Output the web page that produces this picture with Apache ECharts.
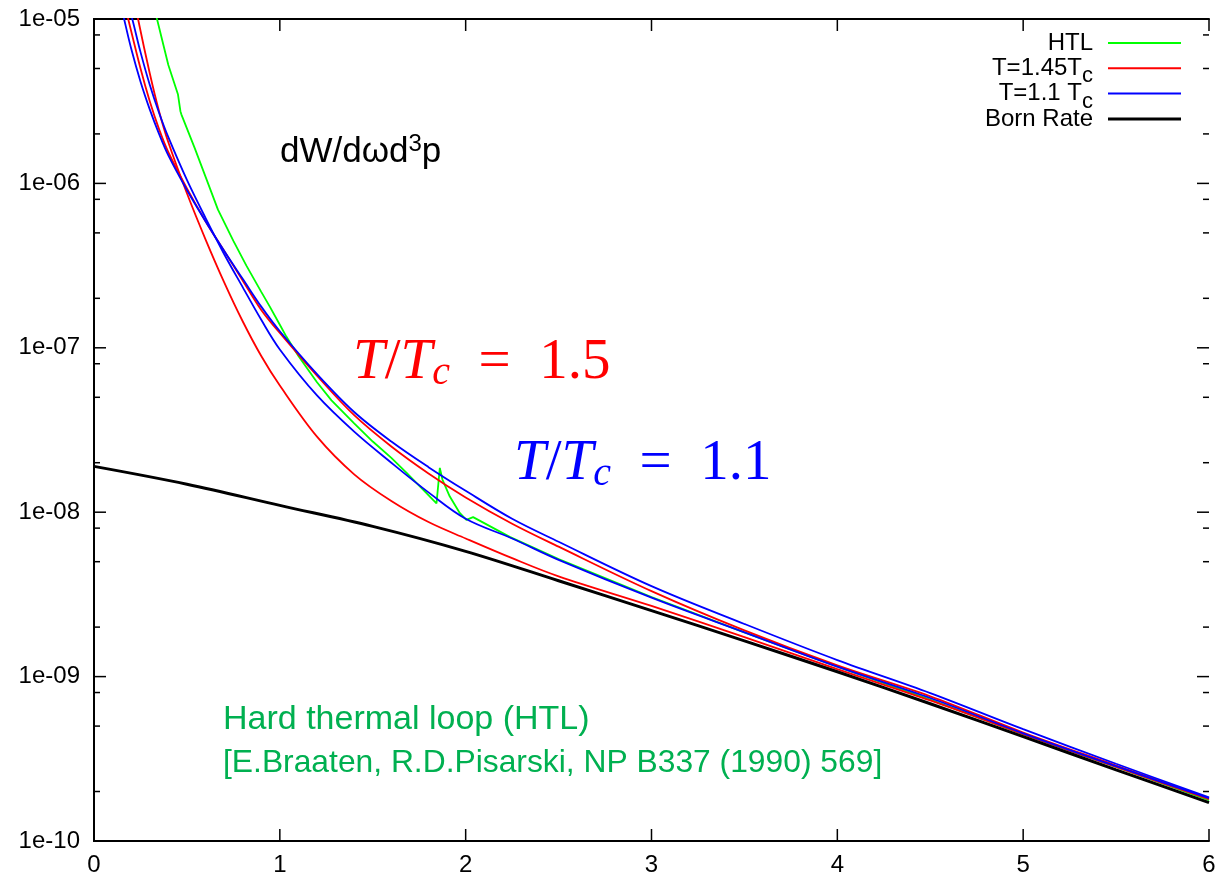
<!DOCTYPE html>
<html><head><meta charset="utf-8">
<script src="https://cdn.jsdelivr.net/npm/echarts@6/dist/echarts.min.js"></script>
<style>html,body{margin:0;padding:0;background:#fff}#c{width:1219px;height:877px}</style>
</head><body><div id="c"></div>
<script>
// ---- data ----
const xTicks = [0, 1, 2, 3, 4, 5, 6];
const yMajorTicks = [1e-10, 1e-9, 1e-8, 1e-7, 1e-6, 1e-5];
const yMinorTicks = [2e-10,5e-10,8e-10,2e-9,5e-9,8e-9,2e-8,5e-8,8e-8,2e-7,5e-7,8e-7,2e-6,5e-6,8e-6];

const htlX = [0.30,0.339,0.40,0.452,0.462,0.465,0.47,0.542,0.60,0.667,0.75,0.82,0.90,0.946,1.0,1.035,1.1,1.2,1.278,1.4,1.5,1.6,1.681,1.76,1.843,1.861,1.875,1.914,1.968,2.004,2.04,2.237,2.5,3.0,3.5,4.0,4.5,5.0,5.5,6.0];
const htlY = [1.58e-5,1.0e-5,5.25e-6,3.47e-6,3.39e-6,2.75e-6,2.63e-6,1.64e-6,1.10e-6,6.92e-7,4.47e-7,3.16e-7,2.19e-7,1.78e-7,1.38e-7,1.17e-7,8.91e-8,6.17e-8,4.79e-8,3.47e-8,2.69e-8,2.14e-8,1.74e-8,1.41e-8,1.13e-8,1.86e-8,1.58e-8,1.25e-8,9.89e-9,8.99e-9,9.33e-9,7.08e-9,5.19e-9,3.05e-9,1.86e-9,1.15e-9,7.24e-10,4.47e-10,2.82e-10,1.77e-10];

const red1X = [0.15,0.184,0.25,0.3,0.35,0.4,0.5,0.6,0.7,0.8,0.9,1.0,1.2,1.4,1.6,1.8,2.0,2.25,2.5,3.0,3.5,4.0,4.5,5.0,5.5,6.0];
const red1Y = [1.45e-5,1.0e-5,5.01e-6,3.16e-6,2.14e-6,1.55e-6,9.33e-7,5.89e-7,3.89e-7,2.57e-7,1.70e-7,1.23e-7,6.76e-8,3.89e-8,2.51e-8,1.72e-8,1.23e-8,8.51e-9,6.17e-9,3.31e-9,1.91e-9,1.17e-9,7.59e-10,4.57e-10,2.88e-10,1.82e-10];

const red2X = [0.2,0.237,0.3,0.35,0.4,0.5,0.6,0.7,0.8,0.9,1.0,1.2,1.4,1.6,1.8,2.0,2.25,2.5,3.0,3.5,4.0,4.5,5.0,5.5,6.0];
const red2Y = [1.66e-5,1.0e-5,4.68e-6,2.75e-6,1.78e-6,8.71e-7,4.57e-7,2.51e-7,1.45e-7,8.91e-8,5.89e-8,2.88e-8,1.70e-8,1.17e-8,8.71e-9,6.92e-9,5.25e-9,4.07e-9,2.69e-9,1.74e-9,1.11e-9,7.16e-10,4.47e-10,2.82e-10,1.80e-10];

const blue1X = [0.12,0.162,0.2,0.25,0.3,0.35,0.4,0.5,0.6,0.7,0.8,0.9,1.0,1.2,1.4,1.6,1.8,2.0,2.25,2.5,3.0,3.5,4.0,4.5,5.0,5.5,6.0];
const blue1Y = [1.62e-5,1.0e-5,6.61e-6,4.17e-6,2.82e-6,2.0e-6,1.48e-6,9.12e-7,5.89e-7,3.89e-7,2.63e-7,1.78e-7,1.26e-7,6.92e-8,4.07e-8,2.69e-8,1.88e-8,1.35e-8,9.12e-9,6.61e-9,3.55e-9,2.09e-9,1.26e-9,7.94e-10,4.79e-10,2.95e-10,1.84e-10];

const blue2X = [0.17,0.206,0.25,0.3,0.35,0.4,0.5,0.6,0.7,0.8,0.9,1.0,1.2,1.4,1.6,1.8,2.0,2.25,2.5,3.0,3.5,4.0,4.5,5.0,5.5,6.0];
const blue2Y = [1.41e-5,1.0e-5,6.31e-6,3.98e-6,2.69e-6,1.91e-6,1.05e-6,6.17e-7,3.72e-7,2.34e-7,1.48e-7,9.77e-8,5.13e-8,3.09e-8,2.0e-8,1.32e-8,9.12e-9,6.92e-9,5.13e-9,3.02e-9,1.86e-9,1.15e-9,7.41e-10,4.52e-10,2.85e-10,1.82e-10];

const bornX = [0,0.5,1,1.5,2,2.5,3,3.5,4,4.5,5,5.5,6];
const bornY = [1.90e-8,1.48e-8,1.10e-8,8.20e-9,5.78e-9,3.83e-9,2.52e-9,1.65e-9,1.07e-9,6.84e-10,4.31e-10,2.71e-10,1.71e-10];

const legendNames = ['HTL', 'T=1.45Tc', 'T=1.1 Tc', 'Born Rate'];
// ---------------

const zip = (xs, ys) => xs.map((x, i) => [x, ys[i]]);
const FONT = 'Liberation Sans, Arial, Helvetica, sans-serif';
const SERIF = 'Liberation Serif, Times New Roman, serif';
const chart = echarts.init(document.getElementById('c'), null, {renderer: 'canvas'});

const expLabel = v => {
  const e = Math.round(Math.log10(v));
  return '1e' + (e < 0 ? '-' : '+') + String(Math.abs(e)).padStart(2, '0');
};
const axisLineStyle = {color: '#000', width: 2};
const X0 = xTicks[0], X1 = xTicks[xTicks.length - 1];
const Y0 = yMajorTicks[0], Y1 = yMajorTicks[yMajorTicks.length - 1];

function lineSeries(name, xs, ys, color, width, smooth) {
  return {
    name, type: 'line', data: zip(xs, ys), symbol: 'none', showSymbol: false,
    smooth: smooth, clip: true, animation: false,
    lineStyle: {color, width}, itemStyle: {color},
    xAxisIndex: 0, yAxisIndex: 0
  };
}
// ticks drawn inward on all four sides of the frame
function yTickSeries(vals, len) {
  return {
    type: 'custom', silent: true, z: 10, animation: false, xAxisIndex: 0, yAxisIndex: 0,
    data: vals.map(v => [X0, v]),
    renderItem: function (params, api) {
      const v = api.value(1);
      const pL = api.coord([X0, v]), pR = api.coord([X1, v]);
      return {type: 'group', children: [
        {type: 'line', shape: {x1: pL[0], y1: pL[1], x2: pL[0] + len, y2: pL[1]}, style: {stroke: '#000', lineWidth: 1.5}},
        {type: 'line', shape: {x1: pR[0], y1: pR[1], x2: pR[0] - len, y2: pR[1]}, style: {stroke: '#000', lineWidth: 1.5}}
      ]};
    }
  };
}
function xTickSeries(vals, len) {
  return {
    type: 'custom', silent: true, z: 10, animation: false, xAxisIndex: 0, yAxisIndex: 0,
    data: vals.map(v => [v, Y0]),
    renderItem: function (params, api) {
      const v = api.value(0);
      const pB = api.coord([v, Y0]), pT = api.coord([v, Y1]);
      return {type: 'group', children: [
        {type: 'line', shape: {x1: pB[0], y1: pB[1], x2: pB[0], y2: pB[1] - len}, style: {stroke: '#000', lineWidth: 1.5}},
        {type: 'line', shape: {x1: pT[0], y1: pT[1], x2: pT[0], y2: pT[1] + len}, style: {stroke: '#000', lineWidth: 1.5}}
      ]};
    }
  };
}

chart.setOption({
  animation: false,
  backgroundColor: '#fff',
  grid: {left: 94, right: 10, top: 19, bottom: 36, containLabel: false},
  xAxis: [
    {type: 'value', min: 0, max: 6, interval: 1, position: 'bottom',
     axisLine: {lineStyle: axisLineStyle}, axisTick: {show: false},
     axisLabel: {color: '#000', fontSize: 24, fontFamily: FONT, margin: 12},
     splitLine: {show: false}},
    {type: 'value', min: 0, max: 6, interval: 1, position: 'top',
     axisLine: {lineStyle: axisLineStyle}, axisTick: {show: false},
     axisLabel: {show: false}, splitLine: {show: false}}
  ],
  yAxis: [
    {type: 'log', logBase: 10, min: 1e-10, max: 1e-5, position: 'left',
     axisLine: {lineStyle: axisLineStyle}, axisTick: {show: false},
     axisLabel: {color: '#000', fontSize: 24, fontFamily: FONT, margin: 14, formatter: expLabel},
     splitLine: {show: false}, minorTick: {show: false}},
    {type: 'log', logBase: 10, min: 1e-10, max: 1e-5, position: 'right',
     axisLine: {lineStyle: axisLineStyle}, axisTick: {show: false},
     axisLabel: {show: false}, splitLine: {show: false}}
  ],
  legend: {
    data: [
      {name: 'HTL', icon: 'path://M0 0H73V2H0Z'},
      {name: 'T=1.45Tc', icon: 'path://M0 0H73V2H0Z'},
      {name: 'T=1.1 Tc', icon: 'path://M0 0H73V2H0Z'},
      {name: 'Born Rate', icon: 'path://M0 0H73V3H0Z'}
    ],
    orient: 'vertical', right: 38, top: 24, align: 'right', padding: 0,
    itemWidth: 73, itemHeight: 14, itemGap: -12.7,
    selectedMode: false,
    textStyle: {
      color: '#000', fontSize: 24, fontFamily: FONT, lineHeight: 38, padding: [0, 10, 0, 0],
      rich: {
        n: {fontSize: 24, fontFamily: FONT, color: '#000', lineHeight: 38},
        s: {fontSize: 22, fontFamily: FONT, color: '#000', verticalAlign: 'bottom'}
      }
    },
    formatter: function (name) {
      if (name === 'T=1.45Tc') return '{n|T=1.45T}{s|c}';
      if (name === 'T=1.1 Tc') return '{n|T=1.1 T}{s|c}';
      return '{n|' + name + '}';
    }
  },
  graphic: [
    {type: 'text', left: 280, top: 132, z: 50, silent: true,
     style: {text: '{a|dW/dωd}{b|3}{a|p}', fill: '#000',
       rich: {a: {fontSize: 35, fontFamily: FONT, fill: '#000', lineHeight: 40},
              b: {fontSize: 24, fontFamily: FONT, fill: '#000', lineHeight: 30, verticalAlign: 'top'}}}},
    {type: 'text', left: 353, top: 335, z: 50, silent: true,
     style: {text: '{i|T}{u|/}{i|T}{c|c}{u|  =  1.5}', fill: '#ff0000',
       rich: {i: {fontSize: 57, fontFamily: SERIF, fontStyle: 'italic', fill: '#ff0000', lineHeight: 60},
              u: {fontSize: 57, fontFamily: SERIF, fill: '#ff0000', lineHeight: 60},
              c: {fontSize: 40, fontFamily: SERIF, fontStyle: 'italic', fill: '#ff0000', lineHeight: 33, verticalAlign: 'bottom'}}}},
    {type: 'text', left: 514, top: 436, z: 50, silent: true,
     style: {text: '{i|T}{u|/}{i|T}{c|c}{u|  =  1.1}', fill: '#0000ff',
       rich: {i: {fontSize: 57, fontFamily: SERIF, fontStyle: 'italic', fill: '#0000ff', lineHeight: 60},
              u: {fontSize: 57, fontFamily: SERIF, fill: '#0000ff', lineHeight: 60},
              c: {fontSize: 40, fontFamily: SERIF, fontStyle: 'italic', fill: '#0000ff', lineHeight: 33, verticalAlign: 'bottom'}}}},
    {type: 'text', left: 223, top: 703, z: 50, silent: true,
     style: {text: 'Hard thermal loop (HTL)', fill: '#00b050', fontSize: 34, fontFamily: FONT}},
    {type: 'text', left: 223, top: 747, z: 50, silent: true,
     style: {text: '[E.Braaten, R.D.Pisarski, NP B337 (1990) 569]', fill: '#00b050', fontSize: 31.8, fontFamily: FONT}}
  ],
  series: [
    lineSeries('HTL', htlX, htlY, '#00ff00', 1.8, false),
    lineSeries('T=1.45Tc', red1X, red1Y, '#ff0000', 1.8, 0.35),
    lineSeries('T=1.45Tc', red2X, red2Y, '#ff0000', 1.8, 0.35),
    lineSeries('T=1.1 Tc', blue1X, blue1Y, '#0000ff', 1.8, 0.35),
    lineSeries('T=1.1 Tc', blue2X, blue2Y, '#0000ff', 1.8, 0.35),
    lineSeries('Born Rate', bornX, bornY, '#000000', 3, 0.35),
    yTickSeries(yMajorTicks, 12),
    yTickSeries(yMinorTicks, 6),
    xTickSeries(xTicks, 12)
  ]
});
</script></body></html>
